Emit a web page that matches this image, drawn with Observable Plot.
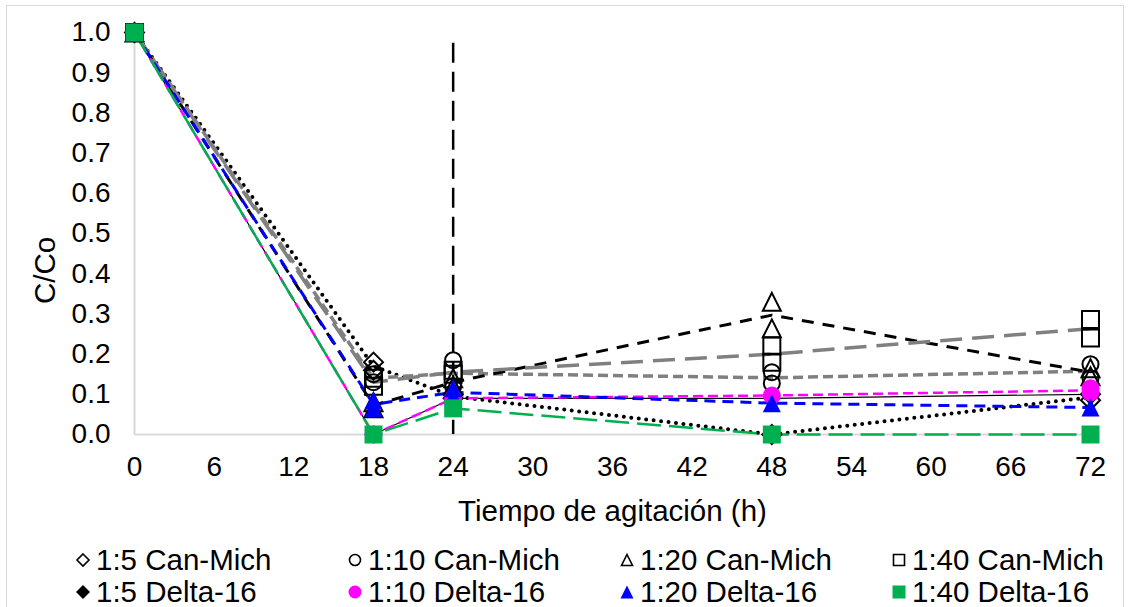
<!DOCTYPE html>
<html>
<head>
<meta charset="utf-8">
<script src="https://cdn.jsdelivr.net/npm/d3@7"></script>
<script src="https://cdn.jsdelivr.net/npm/@observablehq/plot@0.6"></script>
<style>
  html, body { margin: 0; padding: 0; background: #fff; }
  #chart { position: relative; width: 1131px; height: 607px; overflow: hidden;
           font-family: "Liberation Sans", Arial, sans-serif; color: #000; }
  #border { position: absolute; left: 6px; top: 5px; width: 1118px; height: 640px;
            border: 1px solid #d9d9d9; box-sizing: border-box; pointer-events: none; }
  #plot { position: absolute; left: 0; top: 0; }
  #legend { position: absolute; left: 75px; top: 544px; display: grid;
            grid-template-columns: repeat(4, 272px); grid-auto-rows: 32px; }
  .item { display: flex; align-items: center; font-size: 29.5px; white-space: nowrap; }
  .item svg { flex: none; margin-right: 5px; }
</style>
</head>
<body>
<div id="chart">
  <div id="border"></div>
  <div id="plot"></div>
  <div id="legend"></div>
</div>
<script>
// Sampling times (h)
const times = [0, 18, 24, 48, 72];

// Series, in legend order
const seriesNames = [
  "1:5 Can-Mich", "1:10 Can-Mich", "1:20 Can-Mich", "1:40 Can-Mich",
  "1:5 Delta-16", "1:10 Delta-16", "1:20 Delta-16", "1:40 Delta-16"
];

// C/Co replicate readings, one inner list per sampling time
const canMich1to5   = [[1.0], [0.18, 0.16], [0.10, 0.09], [0.0], [0.10, 0.085]];
const canMich1to10  = [[1.0], [0.15, 0.13], [0.185, 0.12], [0.155, 0.127], [0.175, 0.14]];
const canMich1to20  = [[1.0], [0.08, 0.065], [0.14, 0.12], [0.33, 0.264], [0.165, 0.145]];
const canMich1to40  = [[1.0], [0.14, 0.12], [0.16, 0.15], [0.22, 0.18], [0.286, 0.24]];
const delta1to5     = [[1.0], [0.0], [0.09], [0.09], [0.10]];
const delta1to10    = [[1.0], [0.0], [0.09], [0.097], [0.115, 0.105]];
const delta1to20    = [[1.0], [0.085, 0.065], [0.115, 0.095], [0.078], [0.067]];
const delta1to40    = [[1.0], [0.0], [0.065], [0.0], [0.0]];

// Axis ticks and titles
const xTicks = [0, 6, 12, 18, 24, 30, 36, 42, 48, 54, 60, 66, 72];
const yTicks = [0, 0.1, 0.2, 0.3, 0.4, 0.5, 0.6, 0.7, 0.8, 0.9, 1.0];
const xTitle = "Tiempo de agitación (h)";
const yTitle = "C/Co";

// Reference time marked with a vertical dashed line
const cutoffTime = [24];
const cutoffTop = 0.973;

const replicates = [canMich1to5, canMich1to10, canMich1to20, canMich1to40,
                    delta1to5, delta1to10, delta1to20, delta1to40];

// Marker shapes drawn inside a square box whose side is sqrt(size)
const shapes = {
  diamond: { draw(c, size) { const h = Math.sqrt(size) / 2;
    c.moveTo(0, -h); c.lineTo(h, 0); c.lineTo(0, h); c.lineTo(-h, 0); c.closePath(); } },
  circle: { draw(c, size) { const h = Math.sqrt(size) / 2;
    c.moveTo(h, 0); c.arc(0, 0, h, 0, 2 * Math.PI); c.closePath(); } },
  triangle: { draw(c, size) { const h = Math.sqrt(size) / 2;
    c.moveTo(0, -h); c.lineTo(h, h); c.lineTo(-h, h); c.closePath(); } },
  square: { draw(c, size) { const h = Math.sqrt(size) / 2;
    c.moveTo(-h, -h); c.lineTo(h, -h); c.lineTo(h, h); c.lineTo(-h, h); c.closePath(); } }
};
const boxR = (side) => side / Math.sqrt(Math.PI);

// Line and marker styles per series
const styles = [
  { stroke: "#000",    width: 4,   dash: "0 7.5", cap: "round", shape: "diamond",  fill: "none",    mstroke: "#000", box: 19, legend: 12 },
  { stroke: "#808080", width: 3.5, dash: "10 5",  cap: "butt",  shape: "circle",   fill: "none",    mstroke: "#000", box: 16, legend: 11 },
  { stroke: "#000",    width: 3,   dash: "12 9",  cap: "butt",  shape: "triangle", fill: "none",    mstroke: "#000", box: 18, legend: 11 },
  { stroke: "#808080", width: 3.5, dash: "22 10", cap: "butt",  shape: "square",   fill: "none",    mstroke: "#000", box: 17, legend: 11 },
  { stroke: "#000",    width: 1.2, dash: null,    cap: "butt",  shape: "diamond",  fill: "#000",    mstroke: "none", box: 18, legend: 14 },
  { stroke: "#ff00ff", width: 2.5, dash: "10 5",  cap: "butt",  shape: "circle",   fill: "#ff00ff", mstroke: "none", box: 18, legend: 13 },
  { stroke: "#0000ff", width: 3,   dash: "11 7",  cap: "butt",  shape: "triangle", fill: "#0000ff", mstroke: "none", box: 18, legend: 13 },
  { stroke: "#00b050", width: 2.5, dash: "24 8",  cap: "butt",  shape: "square",   fill: "#00b050", mstroke: "none", box: 18, legend: 13 }
];

const points = seriesNames.flatMap((name, i) =>
  replicates[i].flatMap((vals, j) => vals.map(v => ({ name, t: times[j], v }))));
const means = seriesNames.flatMap((name, i) =>
  replicates[i].map((vals, j) => ({ name, t: times[j], v: d3.mean(vals) })));

const lineMarks = seriesNames.map((name, i) => {
  const s = styles[i];
  return Plot.line(means.filter(d => d.name === name), {
    x: "t", y: "v", stroke: s.stroke, strokeWidth: s.width,
    strokeDasharray: s.dash, strokeLinecap: s.cap, strokeLinejoin: "round"
  });
});
const dotMarks = seriesNames.map((name, i) => {
  const s = styles[i];
  return Plot.dot(points.filter(d => d.name === name), {
    x: "t", y: "v", symbol: shapes[s.shape], r: boxR(s.box),
    fill: s.fill, stroke: s.mstroke, strokeWidth: 2
  });
});

const chart = Plot.plot({
  width: 1131,
  height: 529,
  marginLeft: 134,
  marginRight: 41,
  marginTop: 32,
  marginBottom: 95,
  style: { fontFamily: "'Liberation Sans', Arial, sans-serif", fontSize: "28px", color: "#000", background: "transparent", overflow: "visible" },
  x: { domain: [0, 72], ticks: xTicks },
  y: { domain: [0, 1], ticks: yTicks },
  marks: [
    Plot.ruleY([0], { stroke: "#d9d9d9", strokeWidth: 2 }),
    Plot.ruleX([0], { stroke: "#d9d9d9", strokeWidth: 2 }),
    Plot.axisY({ ticks: yTicks, tickSize: 0, tickPadding: 24, tickFormat: d3.format(".1f"), label: null, fontSize: 28 }),
    Plot.axisX({ ticks: xTicks, tickSize: 0, tickPadding: 22, tickFormat: d => String(d), label: null, fontSize: 28 }),
    Plot.text([yTitle], { frameAnchor: "left", textAnchor: "middle", lineAnchor: "middle", rotate: -90, dx: -89, dy: 37, fontSize: 29.5 }),
    Plot.text([xTitle], { frameAnchor: "bottom", textAnchor: "middle", lineAnchor: "middle", dy: 77, fontSize: 29.5 }),
    Plot.ruleX(cutoffTime, { y1: cutoffTop, y2: 0, stroke: "#000", strokeWidth: 2.5, strokeDasharray: "20 9" }),
    ...lineMarks,
    ...dotMarks
  ]
});
document.getElementById("plot").appendChild(chart);

// Legend: open markers on the first row, filled markers on the second
const legend = document.getElementById("legend");
seriesNames.forEach((name, i) => {
  const s = styles[i];
  const item = document.createElement("div");
  item.className = "item";
  const svg = d3.create("svg").attr("width", 16).attr("height", 16).attr("viewBox", "-8 -8 16 16");
  const path = d3.path();
  shapes[s.shape].draw(path, s.legend * s.legend);
  svg.append("path").attr("d", path.toString())
    .attr("fill", s.fill).attr("stroke", s.mstroke).attr("stroke-width", 1.6);
  item.appendChild(svg.node());
  const label = document.createElement("span");
  label.textContent = name;
  item.appendChild(label);
  legend.appendChild(item);
});
</script>
</body>
</html>
